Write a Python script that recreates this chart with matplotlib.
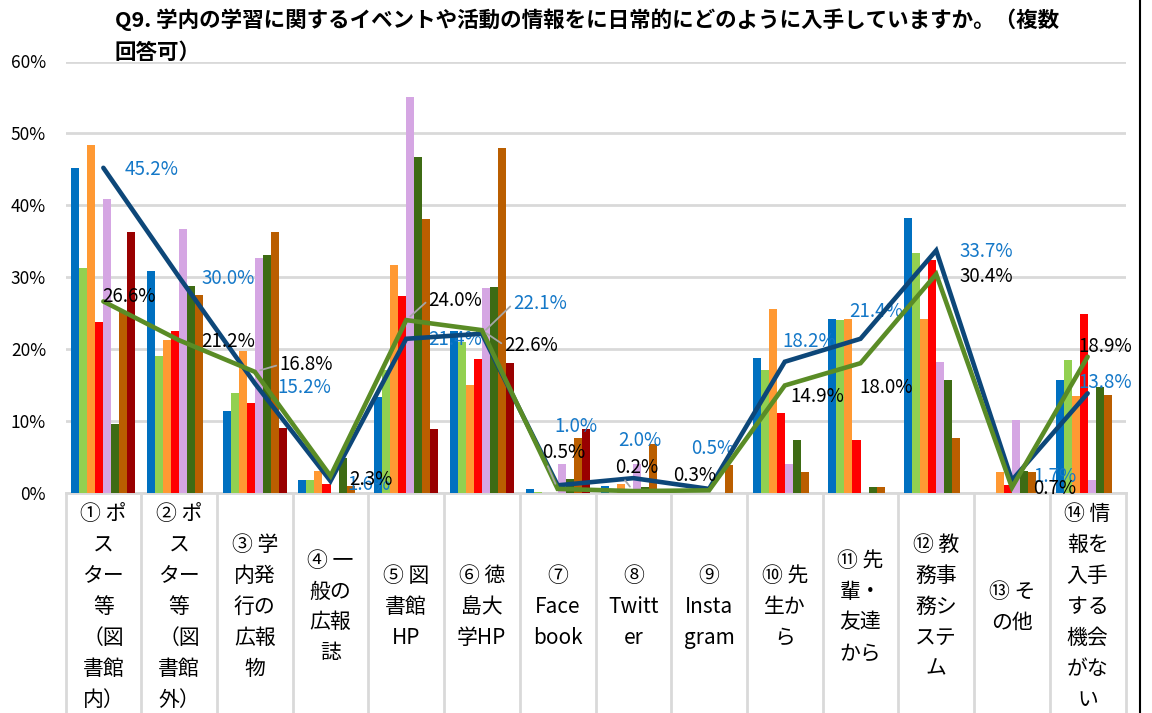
import numpy as np
import matplotlib
matplotlib.use("Agg")
import matplotlib.pyplot as plt
from matplotlib.lines import Line2D

plt.rcParams['font.family'] = ['Noto Sans CJK JP', 'DejaVu Sans']

# ---- data -------------------------------------------------------------
categories = [
    "① ポ\nス\nター\n等\n（図\n書館\n内）",
    "② ポ\nス\nター\n等\n（図\n書館\n外）",
    "③ 学\n内発\n行の\n広報\n物",
    "④ 一\n般の\n広報\n誌",
    "⑤ 図\n書館\nHP",
    "⑥ 徳\n島大\n学HP",
    "⑦\nFace\nbook",
    "⑧\nTwitt\ner",
    "⑨\nInsta\ngram",
    "⑩ 先\n生か\nら",
    "⑪ 先\n輩・\n友達\nから",
    "⑫ 教\n務事\n務シ\nステ\nム",
    "⑬ そ\nの他",
    "⑭ 情\n報を\n入手\nする\n機会\nがな\nい",
]

# bar series (percent)
bars_1 = [45.2, 30.8, 11.3, 1.7, 13.3, 22.5, 0.5, 0.9, 0.0, 18.7, 24.2, 38.2, 0.0, 15.6]
bars_2 = [31.2, 19.0, 13.8, 1.7, 17.0, 21.0, 0.1, 0.0, 0.0, 17.1, 24.0, 33.3, 0.0, 18.4]
bars_3 = [48.4, 21.2, 19.7, 3.0, 31.7, 15.0, 0.0, 1.2, 0.0, 25.6, 24.2, 24.1, 2.9, 13.4]
bars_4 = [23.7, 22.5, 12.5, 1.2, 27.3, 18.6, 0.0, 0.0, 0.0, 11.1, 7.3, 32.3, 1.0, 24.8]
bars_5 = [40.8, 36.7, 32.7, 0.0, 55.0, 28.4, 3.9, 3.9, 0.0, 3.9, 0.0, 18.2, 10.1, 1.8]
bars_6 = [9.5, 28.7, 33.0, 4.8, 46.7, 28.6, 1.9, 0.8, 0.0, 7.3, 0.8, 15.7, 3.0, 14.7]
bars_7 = [25.1, 27.5, 36.3, 0.9, 38.1, 47.9, 7.6, 6.7, 3.8, 2.8, 0.8, 7.6, 2.8, 13.6]
bars_8 = [36.3, 0.0, 9.0, 0.0, 8.9, 18.0, 8.9, 0.0, 0.0, 0.0, 0.0, 0.0, 0.0, 0.0]

# line series (percent)
line_navy = [45.2, 30.0, 15.2, 1.6, 21.4, 22.1, 1.0, 2.0, 0.5, 18.2, 21.4, 33.7, 1.7, 13.8]
line_green = [26.6, 21.2, 16.8, 2.3, 24.0, 22.6, 0.5, 0.2, 0.3, 14.9, 18.0, 30.4, 0.7, 18.9]

y_ticks = [0, 10, 20, 30, 40, 50, 60]
title = "Q9. 学内の学習に関するイベントや活動の情報をに日常的にどのように入手していますか。（複数\n回答可）"

# ---- styling ----------------------------------------------------------
bar_series = [bars_1, bars_2, bars_3, bars_4, bars_5, bars_6, bars_7, bars_8]
bar_colors = ["#0070C0", "#92D050", "#FF9933", "#FF0000",
              "#D5A6E3", "#3E6B14", "#BA5E00", "#990000"]
navy = "#0D4779"
green = "#5A8C26"
blue_text = "#1478C8"
grid_gray = "#D9D9D9"

# label offsets in pixels (dx right, dy up) from each line point
navy_off = [(48, -2), (49, -2), (50, -4), (38, -3), (49, -1), (58, 30), (18, 59),
            (6, 38), (4, 40), (24, 20), (16, 27), (50, -1), (43, 4), (18, 11)]
green_off = [(26, 5), (49, -1), (51, 7), (40, -4), (49, 20), (49, -15), (6, 36),
             (3, 24), (-14, 15), (33, -11), (26, -24), (50, -2), (43, -1), (18, 10)]
green_leader = [False, False, True, False, True, True, True,
                True, False, False, False, False, False, False]
navy_leader = [False] * 14
navy_leader[5] = True

W, H = 1152, 713
fig = plt.figure(figsize=(W / 100, H / 100), dpi=100)
ax_l, ax_r, ax_b, ax_t = 65.5, 1125.5, 492.5, 61.5
ax = fig.add_axes([ax_l / W, (H - ax_b) / H, (ax_r - ax_l) / W, (ax_b - ax_t) / H])

n = len(categories)
x = np.arange(n)
nb = len(bar_series)
bw = 8.0 / 75.7

for j, (vals, col) in enumerate(zip(bar_series, bar_colors)):
    ax.bar(x + (j - (nb - 1) / 2) * bw, vals, width=bw, color=col,
           linewidth=0, zorder=2)

ax.plot(x, line_navy, color=navy, lw=3.3, solid_joinstyle='miter',
        solid_capstyle='round', zorder=4)
ax.plot(x, line_green, color=green, lw=3.3, solid_joinstyle='miter',
        solid_capstyle='round', zorder=5)

label_fs = 13.5
for i in range(n):
    props = None
    if navy_leader[i]:
        props = dict(arrowstyle='-', color='#A6A6A6', lw=1.3, shrinkA=0, shrinkB=4,
                     relpos=(0, 0.5))
    ax.annotate(f"{line_navy[i]:.1f}%", (x[i], line_navy[i]),
                xytext=navy_off[i], textcoords='offset pixels',
                ha='center', va='center', fontsize=label_fs, color=blue_text,
                arrowprops=props, zorder=3, annotation_clip=False)
for i in range(n):
    props = None
    if green_leader[i]:
        props = dict(arrowstyle='-', color='#A6A6A6', lw=1.3, shrinkA=0, shrinkB=4,
                     relpos=(0, 0.5))
    ax.annotate(f"{line_green[i]:.1f}%", (x[i], line_green[i]),
                xytext=green_off[i], textcoords='offset pixels',
                ha='center', va='center', fontsize=label_fs, color='black',
                arrowprops=props, zorder=6, annotation_clip=False)

ax.set_xlim(-0.5, n - 0.5)
ax.set_ylim(0, 60)
ax.set_yticks(y_ticks)
ax.set_yticklabels([f"{t}%" for t in y_ticks], fontsize=12.5)
ax.tick_params(axis='y', length=0, pad=14)
ax.tick_params(axis='x', length=0, labelbottom=False)
ax.grid(axis='y', color=grid_gray, lw=2, zorder=0)
ax.set_axisbelow(True)
for s in ax.spines.values():
    s.set_visible(False)

# category table below the axis
trans = ax.get_xaxis_transform()
depth = -(H - ax_b) / (ax_b - ax_t)
ax.add_line(Line2D([-0.5, n - 0.5], [0, 0], transform=trans, color=grid_gray,
                   lw=2, clip_on=False, zorder=1))
for b in np.arange(n + 1) - 0.5:
    ax.add_line(Line2D([b, b], [0, depth], transform=trans, color=grid_gray,
                       lw=2, clip_on=False))
label_y = -(607 - ax_b) / (ax_b - ax_t)
for i, lab in enumerate(categories):
    ax.text(x[i], label_y, lab, transform=trans, ha='center', va='center',
            fontsize=15, linespacing=1.52, multialignment='center')

fig.text(115 / W, 1 - 8 / H, title, ha='left', va='top', fontsize=15.5,
         fontweight='bold', linespacing=1.65)

fig.add_artist(Line2D([1140 / W, 1140 / W], [0, 1], transform=fig.transFigure,
                      color='black', lw=1.5))

fig.savefig("out.png", dpi=100)
